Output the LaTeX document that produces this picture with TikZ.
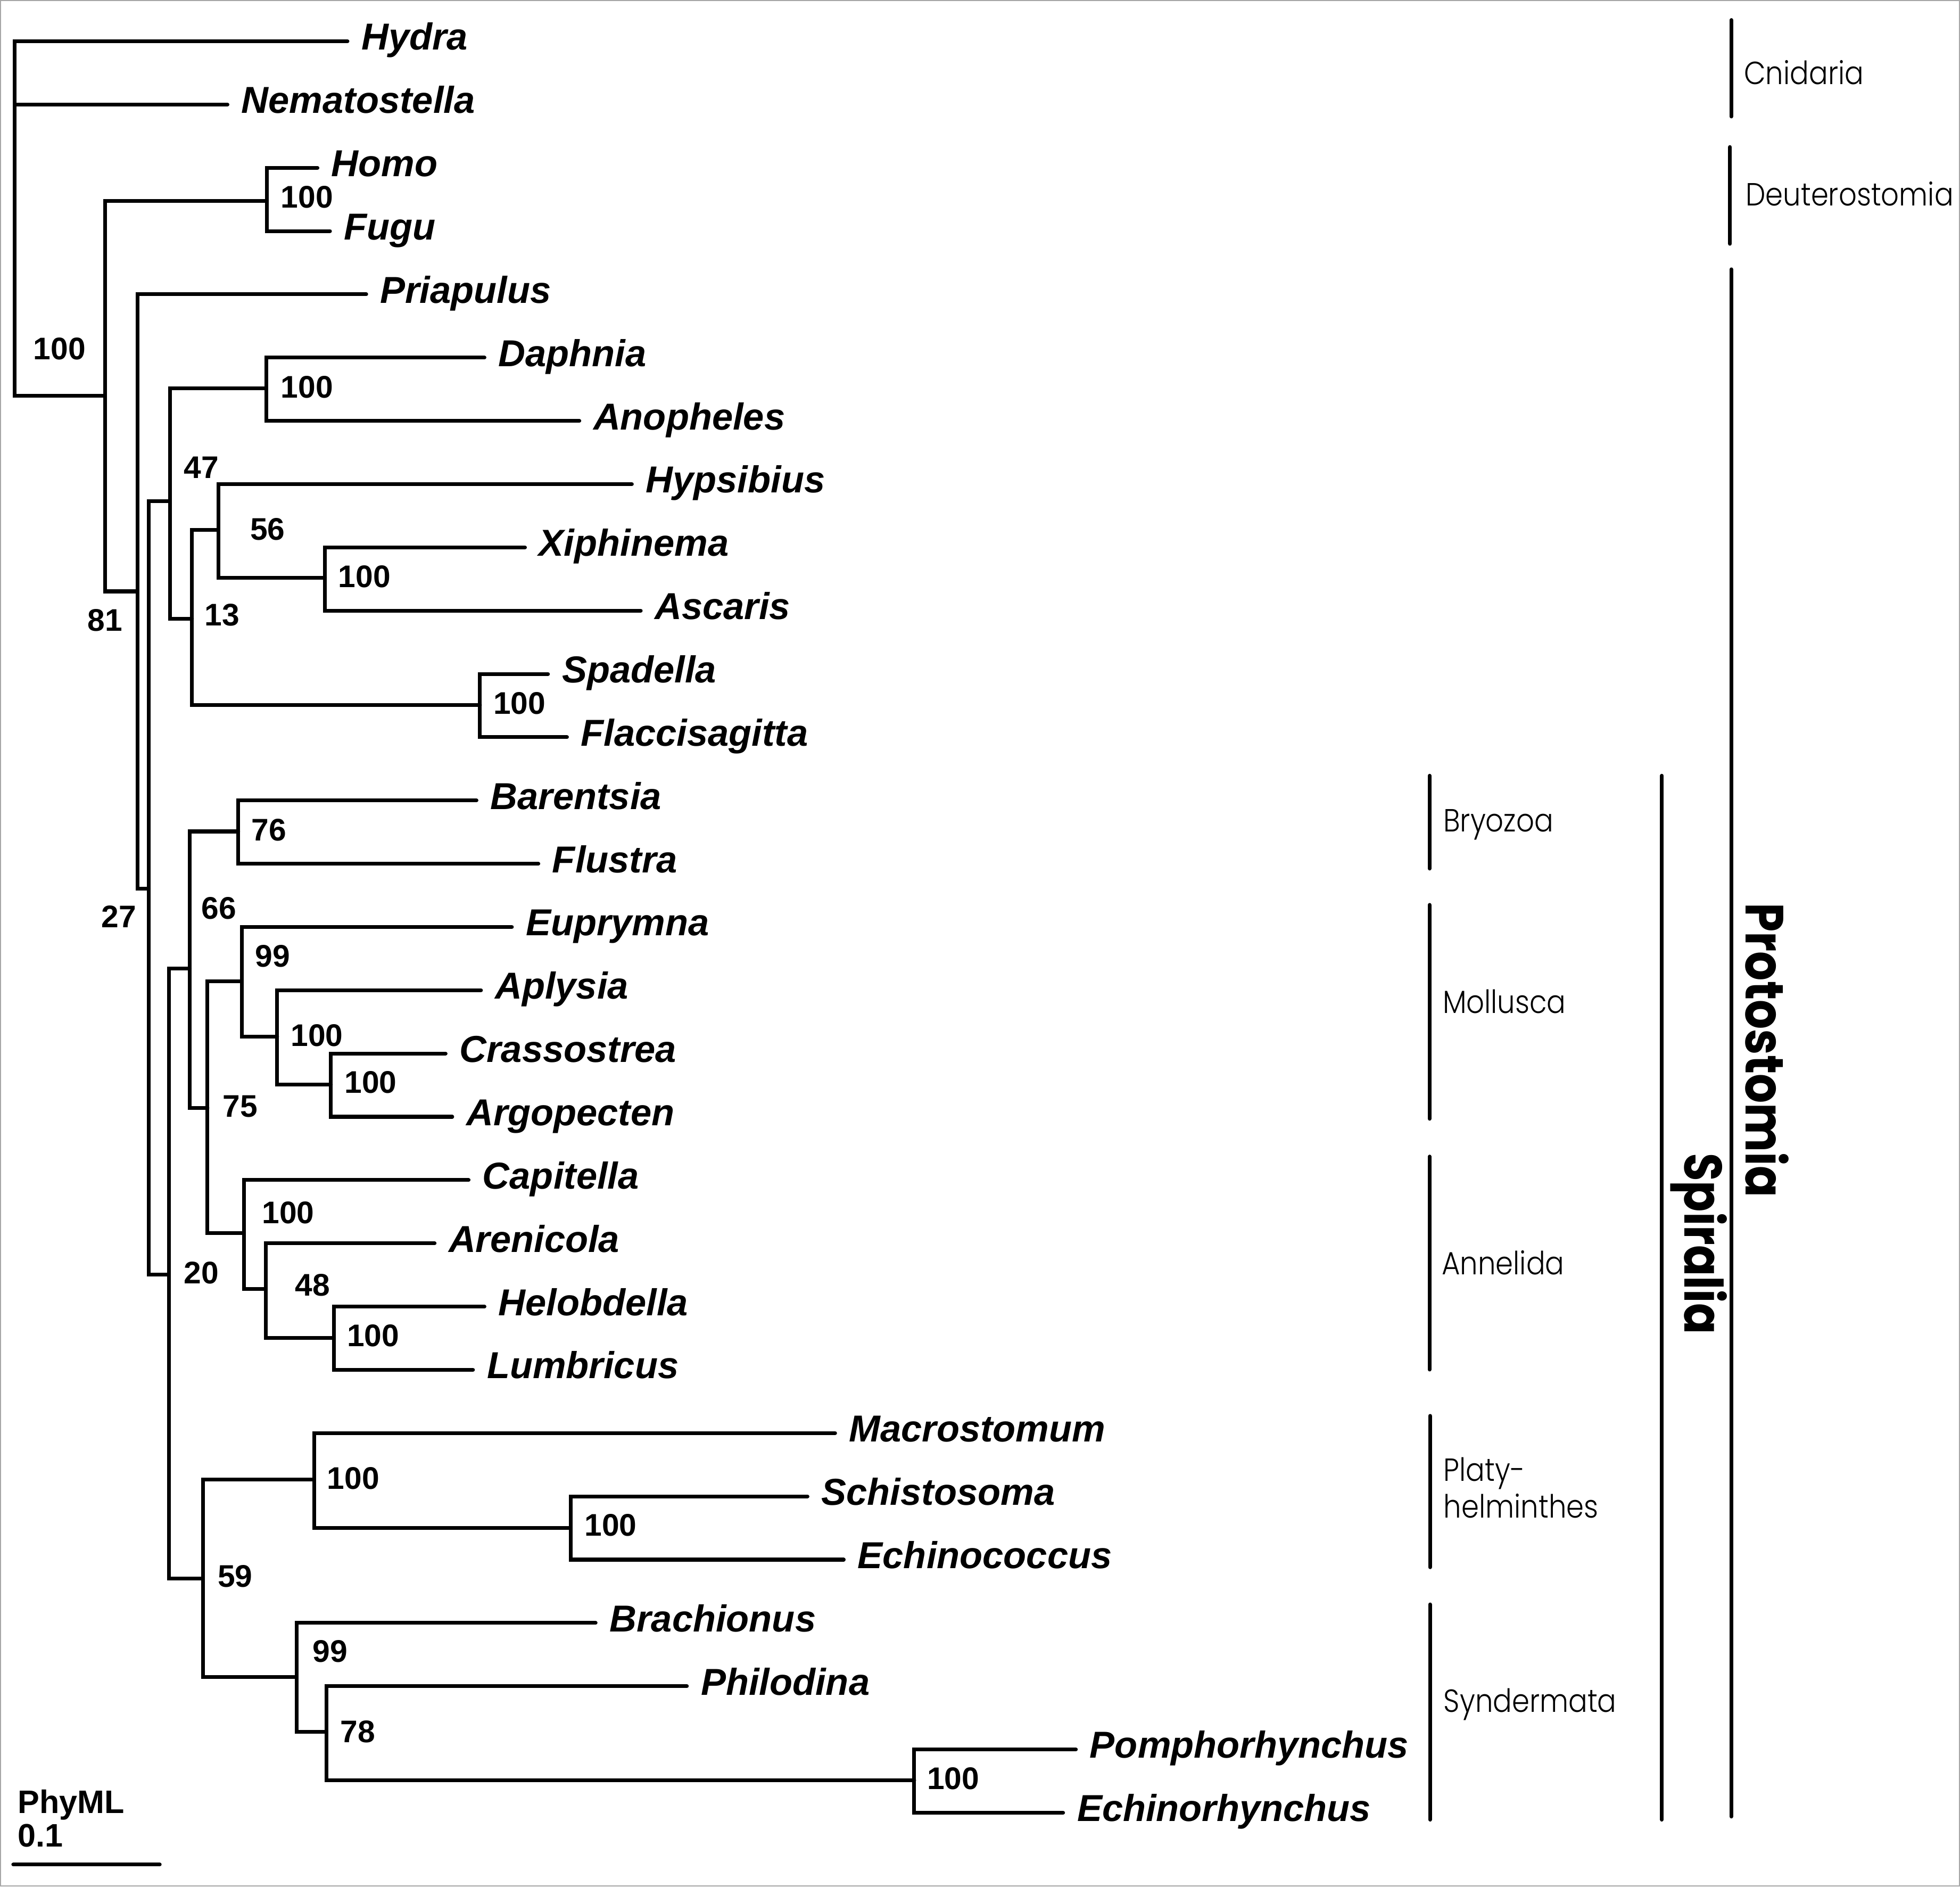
\documentclass[tikz,border=0pt]{standalone}
\usepackage{fontspec}
\setmainfont{Liberation Sans}
\newfontfamily\cladefont{Poppins Light}[FakeStretch=0.88]
\newfontfamily\groupfont{Poppins}[FakeStretch=0.86]
\usetikzlibrary{positioning}

\begin{document}
\begin{tikzpicture}[
  x=1pt, y=-1pt,
  branch/.style={line width=3pt, line cap=round},
  bar/.style={line width=3pt, line cap=round},
  frame/.style={draw=black!35, line width=1pt},
  taxon/.style={anchor=base west, inner sep=0pt, xshift=11pt, yshift=-7pt,
                font=\fontsize{30}{34}\selectfont\bfseries\itshape},
  boot/.style={anchor=west, inner sep=0pt,
               font=\fontsize{25}{30}\selectfont\bfseries},
  clade/.style={anchor=base west, inner sep=0pt, align=left,
                font=\fontsize{25.6}{29.5}\selectfont\cladefont},
  group/.style={anchor=base west, inner sep=0pt, rotate=-90,
                font=\fontsize{43}{50}\selectfont\groupfont\bfseries},
]
  \useasboundingbox (0,0) rectangle (1568,1509);
  \draw[frame] (0.5,0.5) rectangle (1567.5,1508.5);

  % Leaf tips, one per row
  \coordinate (tHydra) at (278,33);
  \coordinate (tNema)  at (182,83.6);
  \coordinate (tHomo)  at (254,134.2);
  \coordinate (tFugu)  at (264,184.8);
  \coordinate (tPria)  at (293,235.4);
  \coordinate (tDaph)  at (387.6,286);
  \coordinate (tAnop)  at (463.5,336.6);
  \coordinate (tHyps)  at (505.5,387.2);
  \coordinate (tXiph)  at (420,437.8);
  \coordinate (tAsca)  at (512.6,488.4);
  \coordinate (tSpad)  at (438.4,539);
  \coordinate (tFlac)  at (453.6,589.6);
  \coordinate (tBare)  at (381.2,640.2);
  \coordinate (tFlus)  at (430.7,690.8);
  \coordinate (tEupr)  at (409.5,741.4);
  \coordinate (tAply)  at (384.8,792);
  \coordinate (tCras)  at (356.5,842.6);
  \coordinate (tArgo)  at (361.8,893.2);
  \coordinate (tCapi)  at (374.9,943.8);
  \coordinate (tAren)  at (347.7,994.4);
  \coordinate (tHelo)  at (387.6,1045);
  \coordinate (tLumb)  at (378.4,1095.6);
  \coordinate (tMacr)  at (668.1,1146.2);
  \coordinate (tSchi)  at (646,1196.8);
  \coordinate (tEchc)  at (675,1247.4);
  \coordinate (tBrac)  at (476.5,1298);
  \coordinate (tPhil)  at (549.5,1348.6);
  \coordinate (tPomp)  at (860.7,1399.2);
  \coordinate (tEchr)  at (850.5,1449.8);

  % Taxon names
  \node[taxon] (hydra)  at (tHydra) {Hydra};
  \node[taxon] (nemato) at (tNema)  {Nematostella};
  \node[taxon] (homo)   at (tHomo)  {Homo};
  \node[taxon] (fugu)   at (tFugu)  {Fugu};
  \node[taxon] (pria)   at (tPria)  {Priapulus};
  \node[taxon] (daph)   at (tDaph)  {Daphnia};
  \node[taxon] (anop)   at (tAnop)  {Anopheles};
  \node[taxon] (hyps)   at (tHyps)  {Hypsibius};
  \node[taxon] (xiph)   at (tXiph)  {Xiphinema};
  \node[taxon] (asca)   at (tAsca)  {Ascaris};
  \node[taxon] (spad)   at (tSpad)  {Spadella};
  \node[taxon] (flac)   at (tFlac)  {Flaccisagitta};
  \node[taxon] (bare)   at (tBare)  {Barentsia};
  \node[taxon] (flus)   at (tFlus)  {Flustra};
  \node[taxon] (eupr)   at (tEupr)  {Euprymna};
  \node[taxon] (aply)   at (tAply)  {Aplysia};
  \node[taxon] (cras)   at (tCras)  {Crassostrea};
  \node[taxon] (argo)   at (tArgo)  {Argopecten};
  \node[taxon] (capi)   at (tCapi)  {Capitella};
  \node[taxon] (aren)   at (tAren)  {Arenicola};
  \node[taxon] (helo)   at (tHelo)  {Helobdella};
  \node[taxon] (lumb)   at (tLumb)  {Lumbricus};
  \node[taxon] (macr)   at (tMacr)  {Macrostomum};
  \node[taxon] (schi)   at (tSchi)  {Schistosoma};
  \node[taxon] (echc)   at (tEchc)  {Echinococcus};
  \node[taxon] (brac)   at (tBrac)  {Brachionus};
  \node[taxon] (phil)   at (tPhil)  {Philodina};
  \node[taxon] (pomp)   at (tPomp)  {Pomphorhynchus};
  \node[taxon] (echr)   at (tEchr)  {Echinorhynchus};

  % Inner nodes of the tree
  \coordinate (root)    at (11.6,175);
  \coordinate (bilat)   at (84,316.6);
  \coordinate (deut)    at (213.6,160.7);
  \coordinate (proto)   at (110,473);
  \coordinate (core)    at (119,710.6);
  \coordinate (ecdy)    at (136,401);
  \coordinate (arth)    at (213,310.6);
  \coordinate (ecdy2)   at (153.6,494.8);
  \coordinate (tard)    at (174.7,424);
  \coordinate (nemat)   at (260,462.2);
  \coordinate (chaet)   at (384,564);
  \coordinate (spir)    at (135,1019.4);
  \coordinate (lopho)   at (151.8,774.5);
  \coordinate (bryo)    at (190.6,665);
  \coordinate (mollann) at (166,886);
  \coordinate (moll)    at (193.4,785);
  \coordinate (moll2)   at (221.7,829.2);
  \coordinate (moll3)   at (264.7,867.3);
  \coordinate (anne)    at (195.2,986.2);
  \coordinate (anne2)   at (212.5,1030.8);
  \coordinate (anne3)   at (267.2,1070);
  \coordinate (platsyn) at (162.4,1262.4);
  \coordinate (plat)    at (251.3,1183.2);
  \coordinate (plat2)   at (456.4,1222.2);
  \coordinate (synd)    at (237.2,1341.4);
  \coordinate (synd2)   at (261.2,1385);
  \coordinate (acan)    at (731.4,1424);

  % Branches
  \draw[branch] (root) |- (tHydra);
  \draw[branch] (root) |- (tNema);
  \draw[branch] (root) |- (bilat);
  \draw[branch] (bilat) |- (deut);
  \draw[branch] (bilat) |- (proto);
  \draw[branch] (deut) |- (tHomo);
  \draw[branch] (deut) |- (tFugu);
  \draw[branch] (proto) |- (tPria);
  \draw[branch] (proto) |- (core);
  \draw[branch] (core) |- (ecdy);
  \draw[branch] (core) |- (spir);
  \draw[branch] (ecdy) |- (arth);
  \draw[branch] (ecdy) |- (ecdy2);
  \draw[branch] (arth) |- (tDaph);
  \draw[branch] (arth) |- (tAnop);
  \draw[branch] (ecdy2) |- (tard);
  \draw[branch] (ecdy2) |- (chaet);
  \draw[branch] (tard) |- (tHyps);
  \draw[branch] (tard) |- (nemat);
  \draw[branch] (nemat) |- (tXiph);
  \draw[branch] (nemat) |- (tAsca);
  \draw[branch] (chaet) |- (tSpad);
  \draw[branch] (chaet) |- (tFlac);
  \draw[branch] (spir) |- (lopho);
  \draw[branch] (spir) |- (platsyn);
  \draw[branch] (lopho) |- (bryo);
  \draw[branch] (lopho) |- (mollann);
  \draw[branch] (bryo) |- (tBare);
  \draw[branch] (bryo) |- (tFlus);
  \draw[branch] (mollann) |- (moll);
  \draw[branch] (mollann) |- (anne);
  \draw[branch] (moll) |- (tEupr);
  \draw[branch] (moll) |- (moll2);
  \draw[branch] (moll2) |- (tAply);
  \draw[branch] (moll2) |- (moll3);
  \draw[branch] (moll3) |- (tCras);
  \draw[branch] (moll3) |- (tArgo);
  \draw[branch] (anne) |- (tCapi);
  \draw[branch] (anne) |- (anne2);
  \draw[branch] (anne2) |- (tAren);
  \draw[branch] (anne2) |- (anne3);
  \draw[branch] (anne3) |- (tHelo);
  \draw[branch] (anne3) |- (tLumb);
  \draw[branch] (platsyn) |- (plat);
  \draw[branch] (platsyn) |- (synd);
  \draw[branch] (plat) |- (tMacr);
  \draw[branch] (plat) |- (plat2);
  \draw[branch] (plat2) |- (tSchi);
  \draw[branch] (plat2) |- (tEchc);
  \draw[branch] (synd) |- (tBrac);
  \draw[branch] (synd) |- (synd2);
  \draw[branch] (synd2) |- (tPhil);
  \draw[branch] (synd2) |- (acan);
  \draw[branch] (acan) |- (tPomp);
  \draw[branch] (acan) |- (tEchr);

  % Support values
  \node[boot] (bBilat)   at (26.5,279)    {100};
  \node[boot] (bDeut)    at (224.5,157.5) {100};
  \node[boot] (bArth)    at (224.5,309.5) {100};
  \node[boot] (bEcdy)    at (147,374)     {47};
  \node[boot] (bTard)    at (200,423.4)   {56};
  \node[boot] (bNemat)   at (270.5,461)   {100};
  \node[boot] (bProto)   at (70,496)      {81};
  \node[boot] (bEcdy2)   at (163.5,492)   {13};
  \node[boot] (bChaet)   at (394.5,562.7) {100};
  \node[boot] (bBryo)    at (201,663.7)   {76};
  \node[boot] (bLopho)   at (161,726.3)   {66};
  \node[boot] (bCore)    at (81,733)      {27};
  \node[boot] (bMoll)    at (204,764.6)   {99};
  \node[boot] (bMoll2)   at (232.5,828)   {100};
  \node[boot] (bMoll3)   at (275.5,865.7) {100};
  \node[boot] (bMollann) at (178,885)     {75};
  \node[boot] (bAnne)    at (209.5,969.8) {100};
  \node[boot] (bSpir)    at (147,1018)    {20};
  \node[boot] (bAnne2)   at (236,1027.7)  {48};
  \node[boot] (bAnne3)   at (277.5,1068.4){100};
  \node[boot] (bPlat)    at (261.5,1182.5){100};
  \node[boot] (bPlat2)   at (467.5,1219.7){100};
  \node[boot] (bPlatsyn) at (174,1260.6)  {59};
  \node[boot] (bSynd)    at (250,1320.9)  {99};
  \node[boot] (bSynd2)   at (272,1385)    {78};
  \node[boot] (bAcan)    at (741.5,1422.6){100};

  % Clade bars and names
  \draw[bar] (1385,16) -- (1385,93.2);
  \node[clade] (cnid) at (1395,67.6) {Cnidaria};
  \draw[bar] (1384,117.6) -- (1384,195);
  \node[clade] (deutl) at (1396.4,164.5) {Deuterostomia};
  \draw[bar] (1143.6,620.4) -- (1143.6,694.7);
  \node[clade] (bryol) at (1154.5,665) {Bryozoa};
  \draw[bar] (1143.6,723.7) -- (1143.6,894.8);
  \node[clade] (molll) at (1154,810.4) {Mollusca};
  \draw[bar] (1143.6,925) -- (1143.6,1095.4);
  \node[clade] (annel) at (1153.3,1019.5) {Annelida};
  \draw[bar] (1144,1132.4) -- (1144,1253.5);
  \node[clade] (platl) at (1154.8,1214) {Platy-\\helminthes};
  \draw[bar] (1144,1283.2) -- (1144,1455.4);
  \node[clade] (syndl) at (1154.8,1369.5) {Syndermata};
  \draw[bar] (1329.5,620.4) -- (1329.5,1455.4);
  \node[group, font=\fontsize{42.5}{48}\selectfont\groupfont\bfseries] (spirl) at (1347.8,922) {Spiralia};
  \draw[bar] (1385,215.4) -- (1385,1452.9);
  \node[group] (protl) at (1396.5,722) {Protostomia};

  % Scale
  \coordinate (sbL) at (10.6,1491.3);
  \coordinate (sbR) at (127.8,1491.3);
  \draw[branch] (sbL) -- (sbR);
  \node[anchor=base west, inner sep=0pt, font=\fontsize{26}{30}\selectfont\bfseries] (phyml) at (14,1450.3) {PhyML};
  \node[anchor=base west, inner sep=0pt, font=\fontsize{26}{30}\selectfont\bfseries] (scale) at (14,1477) {0.1};
\end{tikzpicture}
\end{document}
